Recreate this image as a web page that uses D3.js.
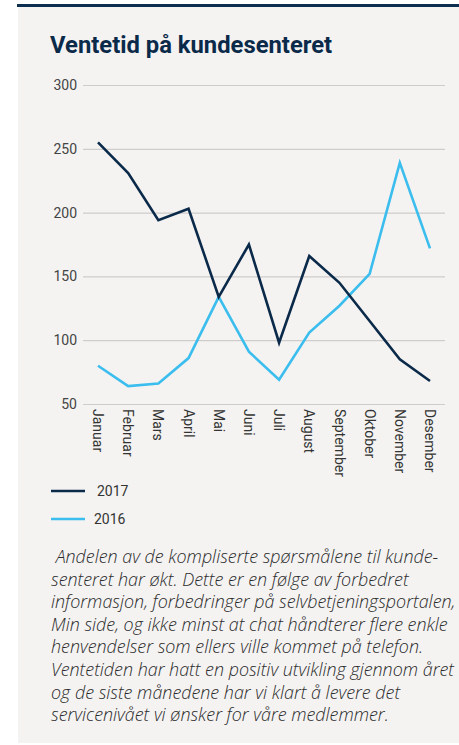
<!DOCTYPE html>
<html>
<head>
<meta charset="utf-8">
<script src="https://cdn.jsdelivr.net/npm/d3@7"></script>
<style>
  body { margin: 0; background: #ffffff; }
  svg { display: block; }
</style>
</head>
<body>
<div id="chart"></div>
<script>
var w = 459;
var h = 745;

// data
var months = ["Januar", "Februar", "Mars", "April", "Mai", "Juni", "Juli",
              "August", "September", "Oktober", "November", "Desember"];
var values2017 = [255, 231, 194, 203, 134, 175, 98, 166, 145, 115, 85, 68];
var values2016 = [80, 64, 66, 86, 134, 91, 69, 106, 127, 152, 239, 172];
var yTicks = [50, 100, 150, 200, 250, 300];
var seriesNames = ["2017", "2016"];
var seriesColors = ["#0b2a4a", "#3bbdee"];

var paragraph = [
  " Andelen av de kompliserte spørsmålene til kunde-",
  "senteret har økt. Dette er en følge av forbedret",
  "informasjon, forbedringer på selvbetjeningsportalen,",
  "Min side, og ikke minst at chat håndterer flere enkle",
  "henvendelser som ellers ville kommet på telefon.",
  "Ventetiden har hatt en positiv utvikling gjennom året",
  "og de siste månedene har vi klart å levere det",
  "servicenivået vi ønsker for våre medlemmer."
];

var svg = d3.select("#chart").append("svg")
  .attr("width", w)
  .attr("height", h);

// panel
svg.append("rect")
  .attr("x", 18).attr("y", 5)
  .attr("width", w - 18).attr("height", h - 7)
  .attr("fill", "#f4f3f2");
svg.append("rect")
  .attr("x", 17).attr("y", 4)
  .attr("width", w - 17).attr("height", 3)
  .attr("fill", "#0d2f4f");

svg.append("text")
  .attr("x", 50).attr("y", 53)
  .attr("font-family", "Roboto, sans-serif")
  .attr("font-weight", 700)
  .attr("font-size", "23.8px")
  .attr("fill", "#0b2a4a")
  .text("Ventetid på kundesenteret");

var x = d3.scalePoint()
  .domain(months)
  .range([98, 430]);

var y = d3.scaleLinear()
  .domain([50, 300])
  .range([404, 85]);

// gridlines + y labels
var yAxis = d3.axisLeft(y)
  .tickValues(yTicks)
  .tickSize(-(445 - 83))
  .tickPadding(6);

var gy = svg.append("g")
  .attr("transform", "translate(83,0)")
  .call(yAxis);
gy.select(".domain").remove();
gy.selectAll(".tick line")
  .attr("stroke", "#cfcdcb")
  .attr("stroke-width", 1.2);
gy.selectAll(".tick text")
  .attr("font-family", "Roboto, sans-serif")
  .attr("font-size", "14px")
  .attr("fill", "#444");

// month labels, rotated
svg.append("g").selectAll("text")
  .data(months)
  .enter()
  .append("text")
  .attr("transform", function(d){ return "translate(" + x(d) + ",409) rotate(90)"; })
  .attr("dy", "0.35em")
  .attr("font-family", "Roboto, sans-serif")
  .attr("font-size", "14px")
  .attr("fill", "#333")
  .text(function(d){ return d; });

var line = d3.line()
  .x(function(d, i){ return x(months[i]); })
  .y(function(d){ return y(d); });

// 2016 first so 2017 sits on top
[values2016, values2017].forEach(function(vals, k){
  var col = k == 0 ? seriesColors[1] : seriesColors[0];
  svg.append("path")
    .datum(vals)
    .attr("d", line)
    .attr("fill", "none")
    .attr("stroke", col)
    .attr("stroke-width", 2.6)
    .attr("stroke-linejoin", "miter");
});

// legend
var legend = svg.append("g").selectAll("g")
  .data(seriesNames)
  .enter()
  .append("g")
  .attr("transform", function(d, i){ return "translate(51," + (491 + i * 28) + ")"; });
legend.append("line")
  .attr("x1", 0).attr("x2", 34)
  .attr("stroke", function(d, i){ return seriesColors[i]; })
  .attr("stroke-width", 2.6);
legend.append("text")
  .attr("x", function(d, i){ return i == 0 ? 46 : 43; })
  .attr("dy", "0.35em")
  .attr("font-family", "Roboto, sans-serif")
  .attr("font-size", "14px")
  .attr("fill", "#333")
  .text(function(d){ return d; });

// description
svg.append("g").selectAll("text")
  .data(paragraph)
  .enter()
  .append("text")
  .attr("x", 51)
  .attr("y", function(d, i){ return 563 + i * 22.6; })
  .attr("font-family", "'Open Sans', sans-serif")
  .attr("font-style", "italic")
  .attr("font-weight", 300)
  .attr("font-size", "17.9px")
  .attr("fill", "#2b2b2b")
  .attr("xml:space", "preserve")
  .style("white-space", "pre")
  .text(function(d){ return d; });
</script>
</body>
</html>
